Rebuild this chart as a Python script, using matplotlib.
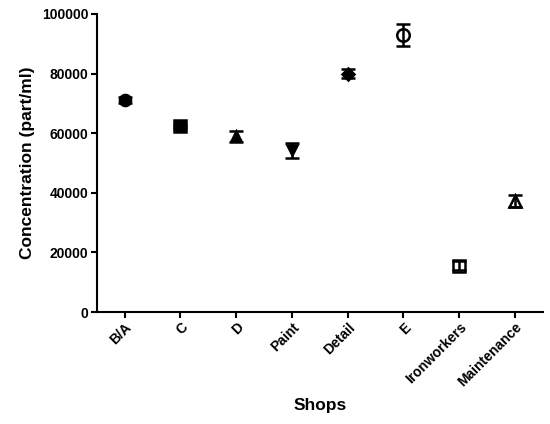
import numpy as np
import matplotlib
matplotlib.use("Agg")
import matplotlib.pyplot as plt

shops = ["B/A", "C", "D", "Paint", "Detail", "E", "Ironworkers", "Maintenance"]
means = [71000, 62300, 59000, 54300, 80000, 93000, 15500, 37200]
errs = [1000, 500, 1900, 2500, 1400, 3600, 1500, 2000]
markers = ["o", "s", "^", "v", "D", "o", "s", "^"]
filled = [True, True, True, True, True, False, False, False]
msizes = [8, 8, 7.5, 7.5, 6, 9, 8, 8]

plt.rcParams['font.family'] = ['Liberation Sans', 'DejaVu Sans']
plt.rcParams['font.weight'] = 'bold'

fig = plt.figure(figsize=(5.5, 4.24), dpi=100)
ax = fig.add_axes([0.176, 0.264, 0.811, 0.703])

x = np.arange(len(shops))
for i in range(len(shops)):
    fc = 'black' if filled[i] else 'none'
    ax.errorbar(x[i], means[i], yerr=errs[i], fmt=markers[i], color='black',
                mfc=fc, mec='black', mew=1.8, ms=msizes[i],
                capsize=5, capthick=1.8, elinewidth=1.8, zorder=3)

ax.set_xlim(-0.5, 7.5)
ax.set_ylim(0, 100000)
ax.set_yticks([0, 20000, 40000, 60000, 80000, 100000])
ax.set_xticks(x)
ax.set_xticklabels(shops, rotation=45, ha='right', rotation_mode='anchor', fontsize=10, fontweight='bold')
for lab in ax.get_yticklabels():
    lab.set_fontsize(10)
    lab.set_fontweight('bold')

ax.spines['top'].set_visible(False)
ax.spines['right'].set_visible(False)
ax.spines['left'].set_linewidth(1.5)
ax.spines['bottom'].set_linewidth(1.5)
ax.tick_params(direction='out', length=4, width=1.5, pad=2)

ax.set_ylabel("Concentration (part/ml)", fontsize=12.5, fontweight='bold', labelpad=5)
ax.set_xlabel("Shops", fontsize=12.5, fontweight='bold', labelpad=6)

plt.savefig("out.png", dpi=100)
plt.close()
